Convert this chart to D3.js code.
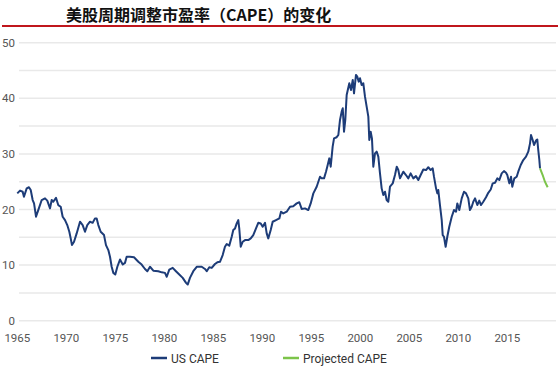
<!DOCTYPE html>
<html lang="zh">
<head>
    <meta charset="UTF-8">
    <title>美股周期调整市盈率（CAPE）的变化</title>
    <style>
        body { margin: 0; background: #fff; }
        .axis text { font-family: "Liberation Sans Narrow", "Roboto", sans-serif; font-size: 11.5px; fill: #555; }
        .legend text { font-family: "Liberation Sans Narrow", "Roboto", sans-serif; font-size: 12px; fill: #333; }
        .title { font-family: "Noto Sans CJK SC", sans-serif; font-size: 16px; font-weight: bold; fill: #111; }
    </style>
</head>
<body>
    <svg id="chart" width="558" height="370"></svg>

    <script src="https://cdnjs.cloudflare.com/ajax/libs/d3/7.8.5/d3.min.js"></script>
    <script>
        // 标题
        const TITLE = '美股周期调整市盈率（CAPE）的变化';

        // US CAPE 读图数据 (年份, 数值)
        const capeYears = [
            1965.05, 1965.33, 1965.60, 1965.73, 1966.01, 1966.24, 1966.42, 1966.62, 1966.76, 1966.96,
            1967.19, 1967.54, 1967.88, 1968.11, 1968.39, 1968.56, 1968.72, 1969.00, 1969.23, 1969.48,
            1969.68, 1969.92, 1970.15, 1970.36, 1970.50, 1970.63, 1970.84, 1971.11, 1971.45, 1971.72,
            1971.96, 1972.19, 1972.47, 1972.74, 1972.98, 1973.15, 1973.32, 1973.56, 1973.90, 1974.10,
            1974.34, 1974.51, 1974.68, 1974.85, 1975.05, 1975.26, 1975.53, 1975.81, 1976.04, 1976.21,
            1976.55, 1976.96, 1977.40, 1977.74, 1978.08, 1978.32, 1978.59, 1978.93, 1979.44, 1979.79,
            1980.12, 1980.30, 1980.56, 1980.91, 1981.24, 1981.58, 1981.93, 1982.27, 1982.44, 1982.67,
            1983.01, 1983.36, 1983.62, 1983.87, 1984.20, 1984.38, 1984.64, 1984.89, 1985.22, 1985.46,
            1985.73, 1986.01, 1986.24, 1986.42, 1986.68, 1986.93, 1987.09, 1987.27, 1987.44, 1987.60,
            1987.70, 1987.85, 1988.05, 1988.29, 1988.62, 1988.87, 1989.13, 1989.41, 1989.64, 1989.89,
            1990.09, 1990.33, 1990.50, 1990.66, 1990.91, 1991.11, 1991.45, 1991.79, 1991.96, 1992.19,
            1992.54, 1992.88, 1993.21, 1993.56, 1993.83, 1994.07, 1994.41, 1994.74, 1994.99, 1995.26,
            1995.60, 1995.77, 1995.94, 1996.11, 1996.35, 1996.55, 1996.68, 1996.89, 1997.03, 1997.23,
            1997.37, 1997.64, 1997.81, 1997.98, 1998.15, 1998.26, 1998.39, 1998.52, 1998.66, 1998.93,
            1999.10, 1999.28, 1999.41, 1999.61, 1999.74, 1999.89, 2000.02, 2000.19, 2000.36, 2000.53,
            2000.70, 2000.87, 2000.97, 2001.11, 2001.24, 2001.38, 2001.55, 2001.72, 2001.89, 2002.06,
            2002.23, 2002.40, 2002.57, 2002.74, 2002.91, 2003.08, 2003.36, 2003.59, 2003.77, 2003.93,
            2004.10, 2004.44, 2004.71, 2004.95, 2005.19, 2005.46, 2005.73, 2005.97, 2006.21, 2006.48,
            2006.76, 2006.99, 2007.23, 2007.44, 2007.57, 2007.78, 2007.91, 2008.01, 2008.18, 2008.36,
            2008.46, 2008.59, 2008.76, 2008.93, 2009.13, 2009.38, 2009.61, 2009.82, 2009.95, 2010.15,
            2010.40, 2010.63, 2010.84, 2011.07, 2011.24, 2011.42, 2011.58, 2011.76, 2011.99, 2012.19,
            2012.37, 2012.60, 2012.88, 2013.11, 2013.36, 2013.56, 2013.80, 2014.03, 2014.24, 2014.48,
            2014.71, 2014.92, 2015.05, 2015.26, 2015.43, 2015.56, 2015.77, 2016.01, 2016.17, 2016.42,
            2016.68, 2016.96, 2017.19, 2017.37, 2017.47, 2017.64, 2017.78, 2017.98, 2018.11, 2018.21,
            2018.32, 2018.39
        ];
        const capeValues = [
            22.9, 23.4, 23.2, 22.3, 23.8, 24.0, 23.5, 21.7, 21.1, 18.7,
            19.9, 21.7, 22.0, 21.6, 20.2, 21.7, 21.4, 22.1, 20.8, 20.5,
            18.7, 18.1, 17.2, 16.0, 14.8, 13.6, 14.2, 15.7, 17.8, 17.2,
            16.0, 17.2, 17.8, 17.6, 18.4, 18.4, 17.2, 16.0, 15.4, 13.6,
            12.7, 11.5, 9.7, 8.6, 8.3, 9.7, 11.0, 10.1, 10.4, 11.5,
            11.5, 11.4, 10.6, 10.1, 9.3, 8.9, 9.7, 9.0, 8.9, 8.7,
            8.6, 7.9, 9.2, 9.5, 8.9, 8.3, 7.7, 6.8, 6.5, 7.7,
            8.9, 9.7, 9.7, 9.7, 9.3, 8.9, 9.6, 9.5, 10.2, 10.5,
            10.6, 11.8, 13.3, 13.8, 13.5, 15.1, 16.3, 16.6, 17.5, 18.1,
            16.6, 13.3, 14.2, 14.5, 14.5, 14.8, 15.4, 16.6, 17.6, 17.5,
            16.9, 17.6, 15.7, 14.8, 16.3, 17.8, 18.1, 18.4, 19.6, 19.3,
            19.6, 20.5, 20.6, 21.1, 21.3, 20.1, 20.2, 19.9, 21.1, 22.9,
            24.1, 25.0, 25.9, 25.6, 25.6, 26.8, 27.7, 29.2, 27.7, 31.3,
            32.8, 33.0, 33.4, 36.1, 37.6, 38.2, 34.0, 36.1, 40.6, 42.7,
            41.5, 43.3, 40.9, 44.2, 43.9, 43.0, 43.6, 42.4, 42.7, 40.3,
            38.5, 36.7, 32.5, 34.0, 32.8, 27.7, 30.1, 30.4, 29.5, 26.5,
            23.8, 22.6, 23.2, 21.7, 21.4, 24.1, 24.7, 26.2, 27.7, 27.1,
            25.6, 26.8, 26.2, 25.6, 26.5, 25.6, 26.0, 25.3, 26.2, 27.2,
            27.1, 27.6, 27.1, 27.4, 25.9, 23.8, 22.9, 23.5, 20.8, 18.1,
            15.4, 15.1, 13.3, 15.1, 16.9, 18.7, 19.9, 19.6, 21.1, 19.9,
            22.0, 23.2, 22.9, 22.0, 19.9, 20.5, 21.4, 22.0, 20.8, 21.6,
            20.8, 21.4, 22.2, 23.0, 23.6, 24.7, 24.8, 25.6, 25.3, 26.5,
            26.9, 26.6, 26.2, 24.7, 25.9, 24.1, 25.6, 25.9, 26.8, 28.0,
            28.9, 29.5, 30.4, 31.9, 33.4, 32.5, 31.6, 32.4, 32.6, 30.7,
            28.9, 27.4
        ];

        // Projected CAPE
        const projYears = [2018.39, 2018.66, 2018.89, 2019.17];
        const projValues = [27.4, 26.2, 25.0, 24.0];

        // 坐标轴刻度
        const xTicks = [1965, 1970, 1975, 1980, 1985, 1990, 1995, 2000, 2005, 2010, 2015];
        const yTicks = [0, 10, 20, 30, 40, 50];
        const gridValues = [0, 5, 10, 15, 20, 25, 30, 35, 40, 45, 50];

        const legendNames = ['US CAPE', 'Projected CAPE'];
        const COLOR_CAPE = '#1d3c78';
        const COLOR_PROJ = '#7cc44a';

        var svg = d3.select('#chart');

        var x = d3.scaleLinear().domain([1965, 2020]).range([16.8, 555.8]);
        var y = d3.scaleLinear().domain([0, 50]).range([320.7, 42.7]);

        // 标题 + 红线
        svg.append('text')
            .attr('class', 'title')
            .attr('x', 66)
            .attr('y', 21)
            .text(TITLE);
        svg.append('line')
            .attr('x1', 2).attr('x2', 558)
            .attr('y1', 26).attr('y2', 26)
            .attr('stroke', '#c0161c')
            .attr('stroke-width', 2);

        // 网格线
        svg.append('g')
            .selectAll('line')
            .data(gridValues)
            .enter()
            .append('line')
            .attr('x1', 19)
            .attr('x2', 556)
            .attr('y1', function (d) { return y(d); })
            .attr('y2', function (d) { return y(d); })
            .attr('stroke', '#e9e9e9')
            .attr('stroke-width', 1.5);

        // y轴
        var yAxis = svg.append('g')
            .attr('class', 'axis')
            .attr('transform', 'translate(19,0)')
            .call(d3.axisLeft(y).tickValues(yTicks).tickSize(0).tickPadding(4));
        yAxis.select('.domain').remove();

        // x轴
        var xAxis = svg.append('g')
            .attr('class', 'axis')
            .attr('transform', 'translate(0,' + y(0) + ')')
            .call(d3.axisBottom(x).tickValues(xTicks).tickFormat(d3.format('d')).tickSize(0).tickPadding(13));
        xAxis.select('.domain').remove();

        var line = d3.line()
            .x(function (d) { return x(d[0]); })
            .y(function (d) { return y(d[1]); });

        var capeData = capeYears.map(function (yr, i) { return [yr, capeValues[i]]; });
        var projData = projYears.map(function (yr, i) { return [yr, projValues[i]]; });

        svg.append('path')
            .datum(capeData)
            .attr('d', line)
            .attr('fill', 'none')
            .attr('stroke', COLOR_CAPE)
            .attr('stroke-width', 2)
            .attr('stroke-linejoin', 'round');

        svg.append('path')
            .datum(projData)
            .attr('d', line)
            .attr('fill', 'none')
            .attr('stroke', COLOR_PROJ)
            .attr('stroke-width', 2);

        // 图例
        var legendX = [151, 283];
        var legend = svg.append('g')
            .attr('class', 'legend')
            .selectAll('g')
            .data(legendNames)
            .enter()
            .append('g')
            .attr('transform', function (d, i) { return 'translate(' + legendX[i] + ',358)'; });
        legend.append('line')
            .attr('x1', 0).attr('x2', 16)
            .attr('y1', 0).attr('y2', 0)
            .attr('stroke', function (d, i) { return i === 0 ? COLOR_CAPE : COLOR_PROJ; })
            .attr('stroke-width', 2.5);
        legend.append('text')
            .attr('x', 20)
            .attr('y', 4.5)
            .text(function (d) { return d; });
    </script>
</body>
</html>
